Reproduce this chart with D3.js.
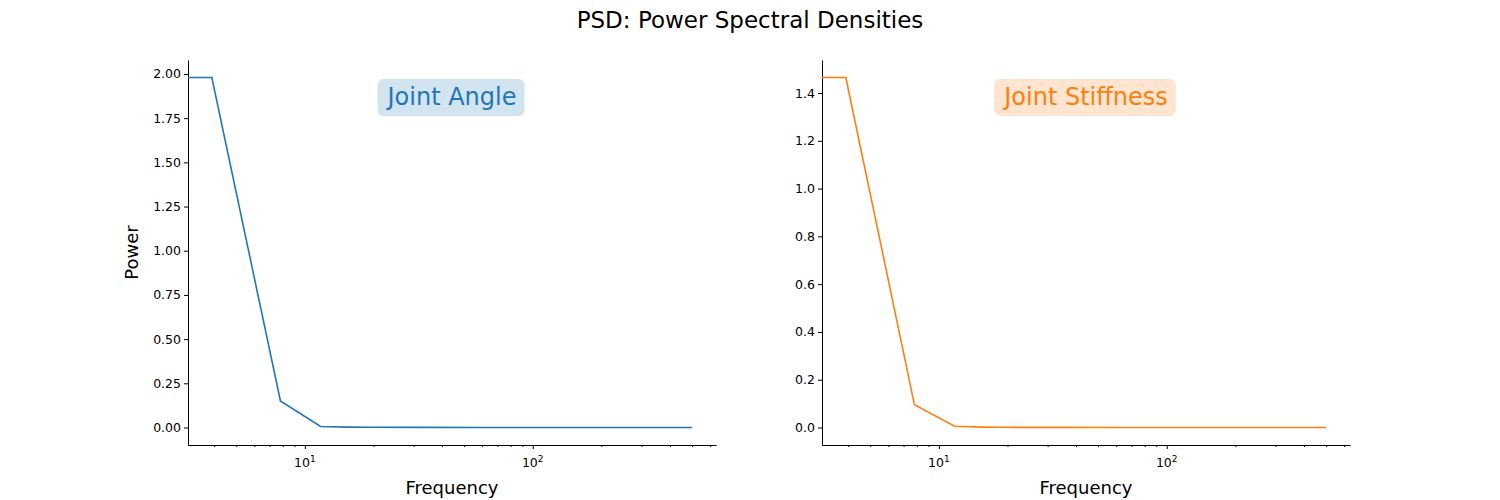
<!DOCTYPE html>
<html><head><meta charset="utf-8">
<script src="https://cdn.jsdelivr.net/npm/d3@7"></script>
<style>body{margin:0;background:#fff;font-family:"DejaVu Sans",sans-serif}</style>
</head><body><svg id="chart" width="1500" height="500"></svg>
<script>
// frequencies (Hz); first point is DC and gets clipped to the left edge like matplotlib
var freqs = [0, 3.906, 7.8125, 11.72, 15.625, 19.53, 31.25, 62.5, 125, 250, 500];
var anglePower = [1.98, 1.98, 0.15, 0.006, 0.002, 0.001, 0.0005, 0.0002, 0.0001, 0.00005, 0.00002];
var stiffPower = [1.465, 1.465, 0.095, 0.005, 0.0015, 0.0008, 0.0004, 0.0002, 0.0001, 0.00005, 0.00002];
var angleTicks = [0, 0.25, 0.5, 0.75, 1.0, 1.25, 1.5, 1.75, 2.0];
var stiffTicks = [0, 0.2, 0.4, 0.6, 0.8, 1.0, 1.2, 1.4];

var svg = d3.select('#chart');
svg.append('text').attr('x', 750).attr('y', 28).attr('text-anchor', 'middle')
    .attr('font-size', 23).text('PSD: Power Spectral Densities');

function panel(left, values, ticks, fmt, color, bg, label, showY) {
    var w = 528, top = 60, bottom = 445;
    var ymax = d3.max(values), pad = ymax * 0.05;
    var x = d3.scaleLog().domain([3.07, 637]).range([left, left + w]);
    var y = d3.scaleLinear().domain([-pad, ymax + pad]).range([bottom, top]);
    var g = svg.append('g');

    g.append('g').attr('transform', 'translate(' + left + ',0)')
        .call(d3.axisLeft(y).tickValues(ticks).tickFormat(d3.format(fmt)).tickSize(4).tickSizeOuter(0));
    var major = [10, 100];
    var minor = [];
    [1, 10, 100].forEach(function (d) {
        for (var k = 2; k < 10; k++) { var v = d * k; if (v >= 3.07 && v <= 637) minor.push(v); }
    });
    g.append('g').attr('transform', 'translate(0,' + bottom + ')')
        .call(d3.axisBottom(x).tickValues(major).tickFormat('').tickSize(4).tickSizeOuter(0));
    g.append('g').attr('transform', 'translate(0,' + bottom + ')')
        .call(d3.axisBottom(x).tickValues(minor).tickFormat('').tickSize(2).tickSizeOuter(0))
        .select('.domain').remove();
    major.forEach(function (m) {
        var t = g.append('text').attr('x', x(m)).attr('y', bottom + 22).attr('text-anchor', 'middle')
            .attr('font-size', 12.5);
        t.append('tspan').text('10');
        t.append('tspan').attr('dy', -5).attr('font-size', 9).text(m === 10 ? '1' : '2');
    });
    g.selectAll('.tick text').attr('font-size', 12.5).attr('fill', '#000').attr('font-family', 'DejaVu Sans');
    g.selectAll('.domain, .tick line').attr('stroke', '#000');

    var line = d3.line()
        .x(function (d) { return d[0] <= 0 ? x.range()[0] : x(d[0]); })
        .y(function (d) { return y(d[1]); });
    g.append('path').datum(freqs.map(function (f, i) { return [f, values[i]]; }))
        .attr('d', line).attr('fill', 'none').attr('stroke', color).attr('stroke-width', 1.6);

    g.append('text').attr('x', left + w / 2).attr('y', 494).attr('text-anchor', 'middle')
        .attr('font-size', 18).text('Frequency');
    if (showY) {
        g.append('text').attr('transform', 'translate(138,' + ((top + bottom) / 2) + ') rotate(-90)')
            .attr('text-anchor', 'middle').attr('font-size', 18).text('Power');
    }
    var cx = left + w * 0.5, cy = 97;
    var t = g.append('text').attr('x', cx).attr('y', cy + 8).attr('text-anchor', 'middle')
        .attr('font-size', 24).attr('fill', color).text(label);
    var bb = t.node().getBBox();
    g.insert('rect', function () { return t.node(); }).attr('x', bb.x - 8).attr('y', cy - 18)
        .attr('width', bb.width + 16).attr('height', 37).attr('rx', 6)
        .attr('fill', bg);
}
panel(188, anglePower, angleTicks, '.2f', '#1f77b4', 'rgba(31,119,180,0.2)', 'Joint Angle', true);
panel(822, stiffPower, stiffTicks, '.1f', '#ff7f0e', 'rgba(255,127,14,0.2)', 'Joint Stiffness', false);
</script></body></html>
